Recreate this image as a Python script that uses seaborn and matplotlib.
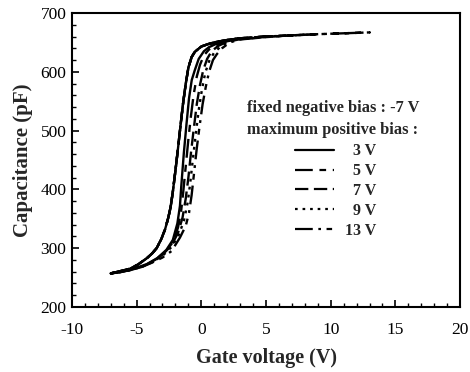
import matplotlib
matplotlib.use("Agg")
import matplotlib.pyplot as plt
import seaborn as sns
import pandas as pd
from matplotlib.ticker import MultipleLocator
from matplotlib.lines import Line2D

# Up-sweep (shared, starts at -7 V)
up_v = [-7.0, -6.4, -5.5, -4.9, -4.2, -3.8, -3.45, -3.1, -2.8, -2.55, -2.37, -2.2,
        -2.0, -1.8, -1.6, -1.4, -1.2, -1.0, -0.75, -0.5, 0.0, 0.5, 1.2, 2.0, 3.0,
        5.0, 7.0, 9.0, 11.0, 13.0]
up_c = [257, 260, 265, 272, 283, 291, 300, 315, 332, 352, 370, 396,
        432, 470, 510, 548, 580, 607, 625, 634, 643, 647, 651, 654, 657,
        660, 662, 664, 665.5, 667]

# Return sweeps (from max positive bias back to -7 V)
dn3_v = [3.0, 2.0, 1.2, 0.6, 0.2, -0.2, -0.5, -0.74, -0.95, -1.15, -1.35, -1.55, -1.65,
         -1.85, -2.2, -2.7, -3.4, -4.2, -5.2, -6.1, -7.0]
dn3_c = [657, 653, 648, 642, 635, 622, 603, 586, 555, 510, 462, 405, 372,
         342, 314, 297, 283, 273, 265, 260, 257]

dn5_v = [5.0, 3.0, 2.0, 1.2, 0.6, 0.2, -0.1, -0.35, -0.6, -0.8, -1.0, -1.2, -1.4, -1.55,
         -1.8, -2.2, -2.8, -3.5, -4.3, -5.3, -6.2, -7.0]
dn5_c = [660, 656, 652, 646, 638, 628, 612, 592, 560, 525, 485, 440, 395, 365,
         335, 310, 293, 281, 271, 264, 259.5, 257]

dn7_v = [7.0, 5.0, 3.0, 2.0, 1.3, 0.8, 0.45, 0.15, -0.1, -0.35, -0.6, -0.8, -1.0, -1.2,
         -1.45, -1.8, -2.3, -2.9, -3.6, -4.4, -5.4, -6.3, -7.0]
dn7_c = [662, 659.5, 655.5, 651, 644, 635, 622, 603, 578, 545, 500, 462, 420, 385,
         352, 326, 305, 291, 279, 270, 263, 259, 257]

dn9_v = [9.0, 7.0, 5.0, 3.0, 2.1, 1.5, 1.0, 0.6, 0.3, 0.05, -0.2, -0.45, -0.65, -0.85,
         -1.05, -1.35, -1.75, -2.3, -2.9, -3.7, -4.5, -5.4, -6.3, -7.0]
dn9_c = [664, 662, 659.5, 655.5, 651, 643, 633, 618, 598, 570, 535, 490, 452, 412,
         378, 346, 322, 302, 289, 277, 269, 263, 259, 257]

dn13_v = [13.0, 11.0, 9.0, 7.0, 5.0, 3.0, 2.2, 1.6, 1.2, 0.9, 0.6, 0.35, 0.1, -0.15,
          -0.35, -0.55, -0.75, -0.95, -1.2, -1.65, -2.3, -3.0, -3.84, -4.6, -5.4, -6.2, -7.0]
dn13_c = [667, 665.5, 664, 662, 659, 655, 650, 640, 630, 620, 600, 575, 545, 505,
          470, 430, 390, 360, 338, 318, 295, 284, 275, 268, 263, 259.5, 257]

max_bias = [3, 5, 7, 9, 13]
labels = ["3 V", "5 V", "7 V", "9 V", "13 V"]
down_v = [dn3_v, dn5_v, dn7_v, dn9_v, dn13_v]
down_c = [dn3_c, dn5_c, dn7_c, dn9_c, dn13_c]

x_ticks = [-10, -5, 0, 5, 10, 15, 20]
y_ticks = [200, 300, 400, 500, 600, 700]

styles = [(None, None), (8, 3, 3, 3), (6, 2.5), (1.2, 2.2), (8, 2.5, 1.2, 2.5, 2.5, 2.5)]

sns.set_style("ticks")
plt.rcParams['font.family'] = ['Liberation Serif', 'DejaVu Serif']
plt.rcParams['axes.unicode_minus'] = False

fig = plt.figure(figsize=(4.7, 3.72), dpi=100)
ax = fig.add_axes([0.153, 0.175, 0.826, 0.79])

handles = []
for mb, lab, dv, dc, st in zip(max_bias, labels, down_v, down_c, styles):
    vv = [v for v in up_v if v <= mb] + dv[1:]
    cc = [c for v, c in zip(up_v, up_c) if v <= mb] + dc[1:]
    df = pd.DataFrame({"V": vv, "C": cc})
    sns.lineplot(data=df, x="V", y="C", sort=False, estimator=None, ax=ax,
                 color="black", lw=1.7)
    line = ax.lines[-1]
    if st[0] is not None:
        line.set_dashes(st)
    h = Line2D([], [], color="black", lw=1.6)
    if st[0] is not None:
        h.set_dashes(st)
    handles.append(h)

ax.set_xlim(-10, 20)
ax.set_ylim(200, 700)
ax.set_xticks(x_ticks)
ax.set_yticks(y_ticks)
ax.set_xticklabels([str(t) for t in x_ticks])
ax.set_yticklabels([str(t) for t in y_ticks])
ax.xaxis.set_minor_locator(MultipleLocator(1))
ax.yaxis.set_minor_locator(MultipleLocator(20))
ax.tick_params(which="major", direction="in", length=5, width=1.2, labelsize=12.5,
               color="black", labelcolor="black")
ax.tick_params(axis="x", which="major", pad=11)
ax.tick_params(axis="y", which="major", pad=4)
ax.tick_params(which="minor", direction="in", length=3, width=1.0, color="black")
for s in ax.spines.values():
    s.set_linewidth(1.5)
    s.set_color("black")

ax.set_xlabel("Gate voltage (V)", fontsize=14.5, fontweight="bold", labelpad=7)
ax.set_ylabel("Capacitance (pF)", fontsize=15, fontweight="bold", labelpad=5)

ax.text(0.451, 0.677, "fixed negative bias : -7 V", transform=ax.transAxes,
        fontsize=11.8, fontweight="bold", ha="left", va="center")
ax.text(0.451, 0.602, "maximum positive bias :", transform=ax.transAxes,
        fontsize=11.8, fontweight="bold", ha="left", va="center")

leg = ax.legend(handles, [" " * 2 + l if len(l) < 4 else l for l in labels],
                loc="upper left", bbox_to_anchor=(0.543, 0.6), frameon=False,
                handlelength=2.4, handletextpad=0.7, labelspacing=0.24,
                borderpad=0.3, prop={"weight": "bold", "size": 11.5})

fig.savefig("out.png", dpi=100)
